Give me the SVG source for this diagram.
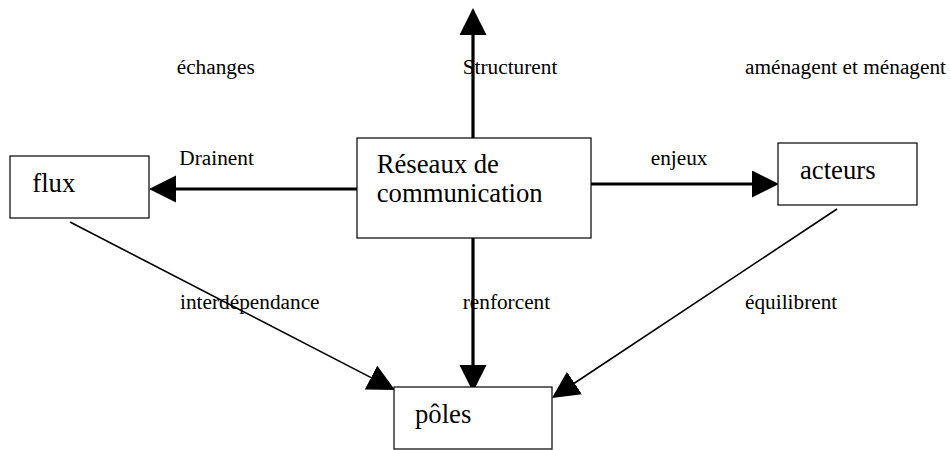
<svg xmlns="http://www.w3.org/2000/svg" width="950" height="450" viewBox="0 0 950 450">
<style>
.box{fill:#fff;stroke:#000;stroke-width:1.2}
.nl{font-family:"Liberation Serif","Times New Roman",serif;font-size:26.7px;fill:#000}
.el{font-family:"Liberation Serif","Times New Roman",serif;font-size:21.3px;fill:#000}
.thick{stroke:#000;stroke-width:3.2;fill:none}
.thin{stroke:#000;stroke-width:1.6;fill:none}
</style>
<defs>
<marker id="ah" markerUnits="userSpaceOnUse" markerWidth="28" markerHeight="28" refX="17" refY="13.5" orient="auto">
<path d="M0,0 L27,13.5 L0,27 z" fill="#000"/>
</marker>
</defs>
<rect width="950" height="450" fill="#fff"/>
<g id="connectors">
<line class="thick" x1="473" y1="138" x2="473" y2="18" marker-end="url(#ah)"/>
<line class="thick" x1="357" y1="189" x2="159" y2="189" marker-end="url(#ah)"/>
<line class="thick" x1="591" y1="184" x2="769" y2="184" marker-end="url(#ah)"/>
<line class="thick" x1="473" y1="238" x2="473" y2="382" marker-end="url(#ah)"/>
<line class="thin" x1="70" y1="222" x2="386.1" y2="385.4" marker-end="url(#ah)"/>
<line class="thin" x1="837" y1="209" x2="560.3" y2="392.5" marker-end="url(#ah)"/>
</g>
<g id="labels">
<text class="el" x="176.7" y="74">échanges</text>
<text class="el" x="462.7" y="74">Structurent</text>
<text class="el" x="745" y="74">aménagent et ménagent</text>
<text class="el" x="179.3" y="165">Drainent</text>
<text class="el" x="650.7" y="165">enjeux</text>
<text class="el" x="180" y="309">interdépendance</text>
<text class="el" x="462.7" y="309">renforcent</text>
<text class="el" x="745" y="309">équilibrent</text>
</g>
<g id="reseaux">
<rect class="box" x="357" y="138" width="234" height="100"/>
<text class="nl" x="376.7" y="173">Réseaux de</text>
<text class="nl" x="376.7" y="202">communication</text>
</g>
<g id="flux">
<rect class="box" x="10" y="156" width="139" height="62"/>
<text class="nl" x="32.3" y="191.7">flux</text>
</g>
<g id="acteurs">
<rect class="box" x="778" y="143" width="139" height="62"/>
<text class="nl" x="800" y="179">acteurs</text>
</g>
<g id="poles">
<rect class="box" x="394" y="387" width="158" height="62"/>
<text class="nl" x="415" y="423.3">pôles</text>
</g>
</svg>
